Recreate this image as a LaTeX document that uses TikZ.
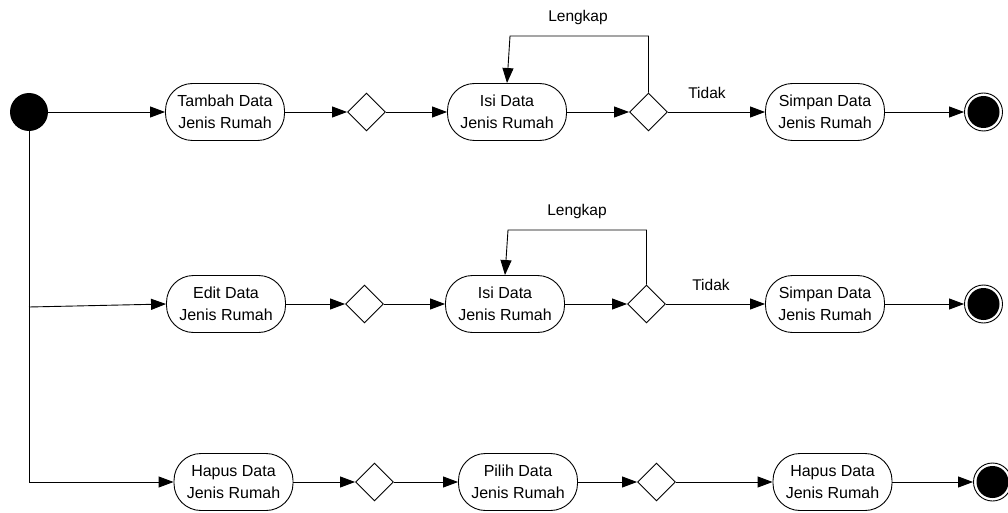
\documentclass[tikz,border=0pt]{standalone}
\usepackage{fontspec}
\setmainfont{Liberation Sans}
\usetikzlibrary{arrows.meta,shapes.geometric}
\begin{document}
\begin{tikzpicture}[x=1pt,y=-1pt,
  act/.style={draw,line width=0.9pt,rounded corners=27pt,minimum width=119pt,minimum height=57pt,align=center,font=\fontsize{16}{22}\selectfont,inner sep=0pt},
  dec/.style={draw,line width=0.9pt,diamond,minimum width=38pt,minimum height=38pt,inner sep=0pt},
  startnode/.style={circle,fill=black,minimum size=38pt,inner sep=0pt},
  endouter/.style={circle,draw,line width=0.9pt,fill=white,minimum size=38pt,inner sep=0pt},
  endinner/.style={circle,fill=black,minimum size=32pt,inner sep=0pt},
  flow/.style={line width=0.9pt,-{Triangle[length=15pt,width=11pt]}},
  lbl/.style={font=\fontsize{15.5}{19}\selectfont}]
\useasboundingbox (0,0) rectangle (1008,513);
% start
\node[startnode] (s) at (29,112) {};
% row 1
\node[act] (a1) at (225,112) {Tambah Data\\Jenis Rumah};
\node[dec] (d11) at (366.5,112) {};
\node[act] (b1) at (507,112) {Isi Data\\Jenis Rumah};
\node[dec] (d12) at (648.5,112) {};
\node[act] (c1) at (825,112) {Simpan Data\\Jenis Rumah};
\node[endouter] (e1) at (983.5,112) {};
\node[endinner] at (e1) {};
% row 2
\node[act] (a2) at (226,304) {Edit Data\\Jenis Rumah};
\node[dec] (d21) at (364.5,304) {};
\node[act] (b2) at (505,304) {Isi Data\\Jenis Rumah};
\node[dec] (d22) at (646.5,304) {};
\node[act] (c2) at (825,304) {Simpan Data\\Jenis Rumah};
\node[endouter] (e2) at (983.5,304) {};
\node[endinner] at (e2) {};
% row 3
\node[act] (a3) at (233.5,482) {Hapus Data\\Jenis Rumah};
\node[dec] (d31) at (374.5,482) {};
\node[act] (b3) at (518,482) {Pilih Data\\Jenis Rumah};
\node[dec] (d32) at (656.5,482) {};
\node[act] (c3) at (832.5,482) {Hapus Data\\Jenis Rumah};
\node[endouter] (e3) at (992.5,482) {};
\node[endinner] at (e3) {};
% coordinates
\coordinate (v2) at (29,307);
\coordinate (v3) at (29,482);
\coordinate (l1a) at (648.5,36);
\coordinate (l1b) at (510,36);
\coordinate (l2a) at (646.5,230);
\coordinate (l2b) at (508,230);
% connectors
\draw[flow] (s) -- (a1);
\draw[line width=0.9pt] (s.south) -- (v3);
\draw[flow] (v2) -- (a2.west);
\draw[flow] (v3) -- (a3);
\draw[flow] (a1) -- (d11);
\draw[flow] (d11) -- (b1);
\draw[flow] (b1) -- (d12);
\draw[flow] (d12) -- (c1);
\draw[flow] (c1) -- (e1);
\draw[flow] (d12.north) -- (l1a) -- (l1b) -- (b1.north);
\draw[flow] (a2) -- (d21);
\draw[flow] (d21) -- (b2);
\draw[flow] (b2) -- (d22);
\draw[flow] (d22) -- (c2);
\draw[flow] (c2) -- (e2);
\draw[flow] (d22.north) -- (l2a) -- (l2b) -- (b2.north);
\draw[flow] (a3) -- (d31);
\draw[flow] (d31) -- (b3);
\draw[flow] (b3) -- (d32);
\draw[flow] (d32) -- (c3);
\draw[flow] (c3) -- (e3);
% labels
\node[lbl] (t1) at (578,17) {Lengkap};
\node[lbl] (t2) at (707,93) {Tidak};
\node[lbl] (t3) at (577,211) {Lengkap};
\node[lbl] (t4) at (711,285) {Tidak};
\end{tikzpicture}
\end{document}
